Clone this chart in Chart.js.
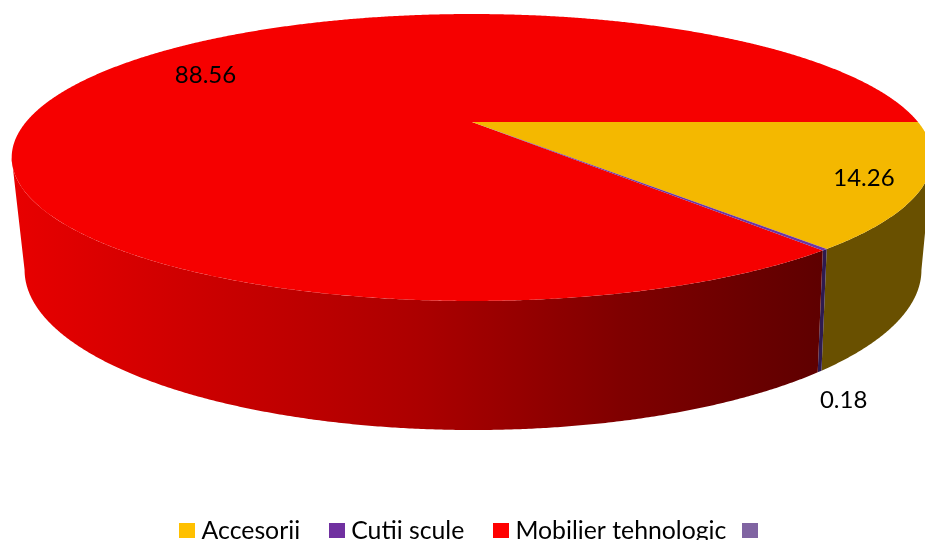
<!DOCTYPE html>
<html><head><meta charset="utf-8">
<style>html,body{margin:0;padding:0;background:#fff;overflow:hidden}canvas{display:block}</style>
<script src="https://cdn.jsdelivr.net/npm/chart.js@4/dist/chart.umd.min.js"></script>
</head><body>
<canvas id="c" width="925" height="540"></canvas>
<script>
const categories = ['Accesorii', 'Cutii scule', 'Mobilier tehnologic', ''];
const values = [14.26, 0.18, 88.56, 0];
const valueLabels = ['14.26', '0.18', '88.56', ''];
const legendColors = ['#FFC000', '#7030A0', '#FF0000', '#8064A2'];
const topColors = ['#F4B800', '#6B35A5', '#F60000', '#8064A2'];
const wallColors = ['#695000', '#2E1A4F', null, '#2E1A4F'];
const legendTrail = ['  ', '  ', '', ''];

// perspective discs (top and bottom faces of the pie)
const topFace = {cx: 472, cy: 122, A: 446, B: 134.7, k: 0.2474};
const botFace = {cx: 473, cy: 228.4, A: 433, B: 149.2, k: 0.26};
function project(f, a, r) {
  const u = Math.cos(a) * r, v = Math.sin(a) * r, w = 1 - f.k * v;
  return [f.cx + f.A * u / w, f.cy + f.B * v / w];
}
function rim(f, a0, a1) {
  const n = Math.max(2, Math.ceil(Math.abs(a1 - a0) / 0.005)), p = [];
  for (let i = 0; i <= n; i++) p.push(project(f, a0 + (a1 - a0) * i / n, 1));
  return p;
}
function fillPoly(ctx, pts, fill) {
  ctx.beginPath();
  pts.forEach((p, i) => i ? ctx.lineTo(p[0], p[1]) : ctx.moveTo(p[0], p[1]));
  ctx.closePath();
  ctx.fillStyle = fill;
  ctx.fill();
}
function clampFace(f, a) {
  const s = Math.asin(f.k);
  return Math.min(Math.PI - s, Math.max(s, a));
}
// offset of each value label from its projected slice midpoint
const labelShift = [[0, 1], [24, 29], [3.5, -8], [0, 0]];
const labelFace = [0.88, 1.0, 0.72, 0];

const pie3d = {
  id: 'pie3d',
  beforeDatasetsDraw(chart) {
    const ctx = chart.ctx, arcs = chart.getDatasetMeta(0).data;
    const grad = ctx.createLinearGradient(12, 0, 822, 0);
    grad.addColorStop(0, '#E80000');
    grad.addColorStop(0.5, '#AC0000');
    grad.addColorStop(0.75, '#800000');
    grad.addColorStop(1, '#5E0000');
    ctx.save();
    arcs.forEach((arc, i) => {
      if (arc.endAngle - arc.startAngle < 1e-6) return;
      const t0 = clampFace(topFace, arc.startAngle), t1 = clampFace(topFace, arc.endAngle);
      const b0 = clampFace(botFace, arc.startAngle), b1 = clampFace(botFace, arc.endAngle);
      const pts = rim(topFace, t0, t1).concat(rim(botFace, b1, b0));
      fillPoly(ctx, pts, wallColors[i] || grad);
    });
    [2, 0, 1].forEach(i => {
      const arc = arcs[i];
      fillPoly(ctx, [[topFace.cx, topFace.cy]].concat(rim(topFace, arc.startAngle, arc.endAngle)), topColors[i]);
    });
    ctx.fillStyle = '#000';
    ctx.font = '24px Lato';
    ctx.textAlign = 'center';
    ctx.textBaseline = 'middle';
    arcs.forEach((arc, i) => {
      if (!valueLabels[i]) return;
      const mid = (arc.startAngle + arc.endAngle) / 2;
      const p = i === 1 ? project(botFace, mid, 1) : project(topFace, mid, labelFace[i]);
      ctx.fillText(valueLabels[i], p[0] + labelShift[i][0], p[1] + labelShift[i][1]);
    });
    ctx.restore();
    return false;
  }
};

function swatch(color) {
  const s = document.createElement('canvas');
  s.width = 16; s.height = 15;
  const g = s.getContext('2d');
  g.fillStyle = color;
  g.fillRect(0, 0, 16, 15);
  return s;
}

new Chart(document.getElementById('c'), {
  type: 'pie',
  data: {labels: categories, datasets: [{data: values, backgroundColor: topColors, borderWidth: 0}]},
  options: {
    responsive: false,
    animation: false,
    rotation: 90,
    layout: {padding: {bottom: -13, left: 25}},
    plugins: {
      tooltip: {enabled: false},
      legend: {
        position: 'bottom',
        labels: {
          font: {family: 'Lato', size: 24.8},
          color: '#000',
          padding: 22,
          usePointStyle: true,
          pointStyleWidth: 4,
          generateLabels(chart) {
            return categories.map((t, i) => ({
              text: t + legendTrail[i],
              pointStyle: swatch(legendColors[i]),
              fillStyle: legendColors[i],
              strokeStyle: legendColors[i],
              lineWidth: 0,
              index: i
            }));
          }
        }
      }
    }
  },
  plugins: [pie3d]
});
</script>
</body></html>
